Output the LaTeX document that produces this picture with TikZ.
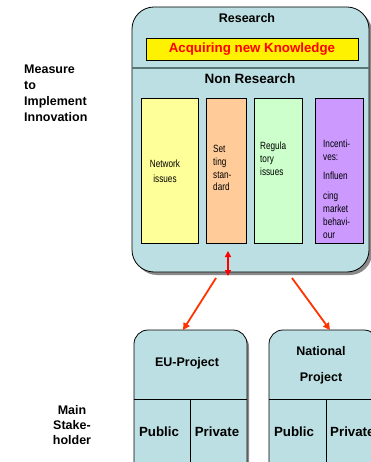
\documentclass[tikz,border=0pt]{standalone}
\usepackage{fontspec}
\setmainfont{Liberation Sans}
\newfontfamily\narrowsans[FakeStretch=0.78]{Liberation Sans}
\usetikzlibrary{arrows.meta}
\definecolor{boxblue}{HTML}{BBDFE2}
\definecolor{shade}{HTML}{8A8A8A}
\definecolor{colyel}{HTML}{FFFF99}
\definecolor{colora}{HTML}{FFCC99}
\definecolor{colgre}{HTML}{CCFFCC}
\definecolor{colpur}{HTML}{CC99FF}
\definecolor{arrred}{HTML}{FF3300}
\definecolor{divline}{HTML}{5A7575}
\tikzset{
  bigbox/.style={draw=black, fill=boxblue, rounded corners=22pt, line width=0.8pt},
  shadowbox/.style={fill=shade, rounded corners=22pt},
  colbox/.style={draw=black, line width=0.7pt, anchor=north west, inner sep=0pt},
  coltext/.style={font=\narrowsans\fontsize{10.5}{12.8}\selectfont, align=left, inner sep=0pt},
  title/.style={font=\bfseries\fontsize{12.5}{14}\selectfont, inner sep=0pt},
  sidelabel/.style={font=\bfseries\fontsize{12.5}{16}\selectfont, align=left, inner sep=0pt},
  redarrow/.style={draw=arrred, line width=1.8pt, -{Triangle[length=7pt,width=7pt]}},
}
\begin{document}
\begin{tikzpicture}[x=1pt,y=-1pt]
\useasboundingbox (0,0) rectangle (371,462);
\clip (0,0) rectangle (371,462);
% big box
\fill[shadowbox] (135,10) rectangle (372,275);
\path[bigbox] (132,7) rectangle (369,272);
\draw[divline, line width=1.5pt] (132,68) -- (369,68);
\node[title] (research) at (247,18) {Research};
\node[draw=black, fill=yellow, line width=0.7pt, minimum width=212pt, minimum height=22pt, inner sep=0pt, font=\bfseries\fontsize{13.3}{14}\selectfont, text=red] (acq) at (252,49) {Acquiring new Knowledge};
\node[title, font=\bfseries\fontsize{13.5}{14}\selectfont] (nonres) at (250,79) {Non Research};
% columns
\node[colbox, fill=colyel, minimum width=57pt, minimum height=145pt] (c1) at (141,98) {};
\node[colbox, fill=colora, minimum width=40pt, minimum height=145pt] (c2) at (206,98) {};
\node[colbox, fill=colgre, minimum width=48pt, minimum height=145pt] (c3) at (254,98) {};
\node[colbox, fill=colpur, minimum width=48pt, minimum height=145pt] (c4) at (315,98) {};
\node[coltext, align=center, font=\narrowsans\fontsize{10.5}{15}\selectfont] (t1) at (165,171) {Network\\issues};
\node[coltext, anchor=north west] (t2) at (213,145) {Set\\ting\\stan-\\dard};
\node[coltext, anchor=north west] (t3) at (260,142) {Regula\\tory\\issues};
\node[coltext, anchor=north west] (t4a) at (323,140) {Incenti-\\ves:};
\node[coltext, anchor=north west] (t4b) at (323,172) {Influen};
\node[coltext, anchor=north west] (t4c) at (323,192) {cing\\market\\behavi-\\our};
% bottom boxes
\fill[shadowbox, rounded corners=14pt] (136,333) rectangle (249,480);
\path[bigbox, rounded corners=14pt] (134,330) rectangle (247,478);
\fill[shadowbox, rounded corners=14pt] (271,333) rectangle (380,480);
\path[bigbox, rounded corners=14pt] (269,330) rectangle (378,478);
\draw[line width=0.7pt] (134,399) -- (247,399) (190,399) -- (190,478);
\draw[line width=0.7pt] (269,399) -- (378,399) (326,399) -- (326,478);
\node[title] (eu) at (187,363) {EU-Project};
\node[title, align=center, font=\bfseries\fontsize{12.5}{26}\selectfont] (nat) at (321,365) {National\\Project};
\node[title, font=\bfseries\fontsize{13.3}{14}\selectfont] (pub1) at (159,432) {Public};
\node[title, font=\bfseries\fontsize{13.3}{14}\selectfont] (pri1) at (217,432) {Private};
\node[title, font=\bfseries\fontsize{13.3}{14}\selectfont] (pub2) at (294,432) {Public};
\node[title, font=\bfseries\fontsize{13.3}{14}\selectfont, anchor=west] (pri2) at (330,432) {Private};
\node[coordinate] (eutop) at (183,330) {};
\node[coordinate] (nattop) at (330,330) {};
\node[coordinate] (dl) at (216,278) {};
\node[coordinate] (dr) at (292,278) {};
\node[coordinate] (ua) at (228,251) {};
\node[coordinate] (ub) at (228,276) {};
% arrows
\draw[redarrow, draw=red, line width=1.5pt, {Triangle[length=6pt,width=6pt]}-{Triangle[length=6pt,width=6pt]}] (ua) -- (ub);
\draw[redarrow] (dl) -- (eutop);
\draw[redarrow] (dr) -- (nattop);
% side labels
\node[sidelabel, anchor=north west] (measure) at (24,65) {Measure\\to\\Implement\\Innovation};
\node[title, align=center, font=\bfseries\fontsize{12.5}{15}\selectfont] (main) at (72,425) {Main\\Stake-\\holder};
\end{tikzpicture}
\end{document}
